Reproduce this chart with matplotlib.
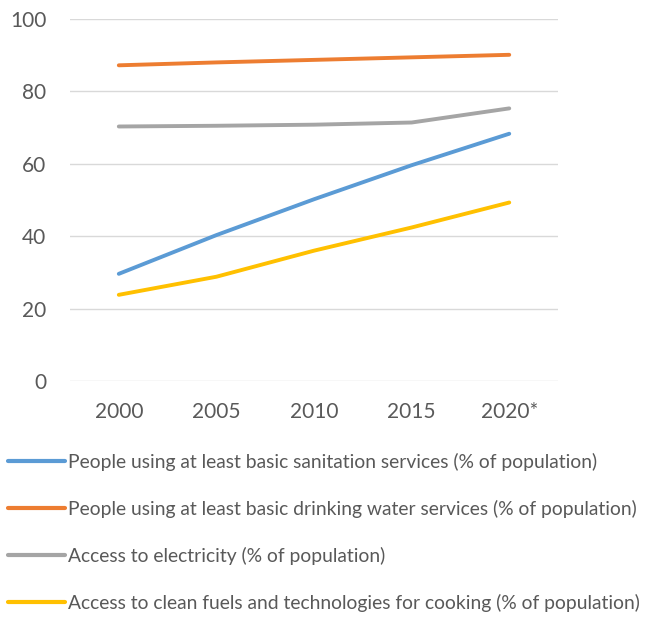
import matplotlib
matplotlib.use('Agg')
import matplotlib.pyplot as plt

years = ['2000', '2005', '2010', '2015', '2020*']
sanitation = [29.6, 40.3, 50.2, 59.6, 68.3]
drinking_water = [87.2, 88.0, 88.7, 89.4, 90.1]
electricity = [70.3, 70.5, 70.8, 71.4, 75.3]
clean_cooking = [23.8, 28.8, 36.0, 42.4, 49.3]

labels = ['People using at least basic sanitation services (% of population)',
          'People using at least basic drinking water services (% of population)',
          'Access to electricity (% of population)',
          'Access to clean fuels and technologies for cooking (% of population)']
colors = ['#5B9BD5', '#ED7D31', '#A5A5A5', '#FFC000']

plt.rcParams['font.family'] = ['Lato', 'DejaVu Sans']
text_col = '#595959'

fig = plt.figure(figsize=(6.56, 6.2), dpi=100)
ax = fig.add_axes([0.1067, 0.3855, 0.744, 0.5839])

x = range(len(years))
for series, lab, col in zip([sanitation, drinking_water, electricity, clean_cooking], labels, colors):
    ax.plot(x, series, color=col, lw=2.8, solid_capstyle='round', label=lab)

ax.set_xlim(-0.5, len(years) - 0.5)
ax.set_ylim(0, 100)
ax.set_yticks(range(0, 101, 20))
ax.set_xticks(list(x))
ax.set_xticklabels(years)
ax.grid(axis='y', color='#D9D9D9', lw=1)
ax.set_axisbelow(True)
for s in ax.spines.values():
    s.set_visible(False)
ax.tick_params(length=0, labelsize=15, colors=text_col)
ax.tick_params(axis='x', pad=15)
ax.tick_params(axis='y', pad=17)

handles, labs = ax.get_legend_handles_labels()
leg = fig.legend(handles, labs, loc='upper left', bbox_to_anchor=(0.012, 0.270),
                 frameon=False, fontsize=13.9, handlelength=2.95, handletextpad=0.15,
                 labelspacing=1.5, borderaxespad=0, borderpad=0)
for t in leg.get_texts():
    t.set_color(text_col)
for h in leg.get_lines():
    h.set_linewidth(3)
    h.set_solid_capstyle('round')

fig.savefig('out.png', dpi=100)
